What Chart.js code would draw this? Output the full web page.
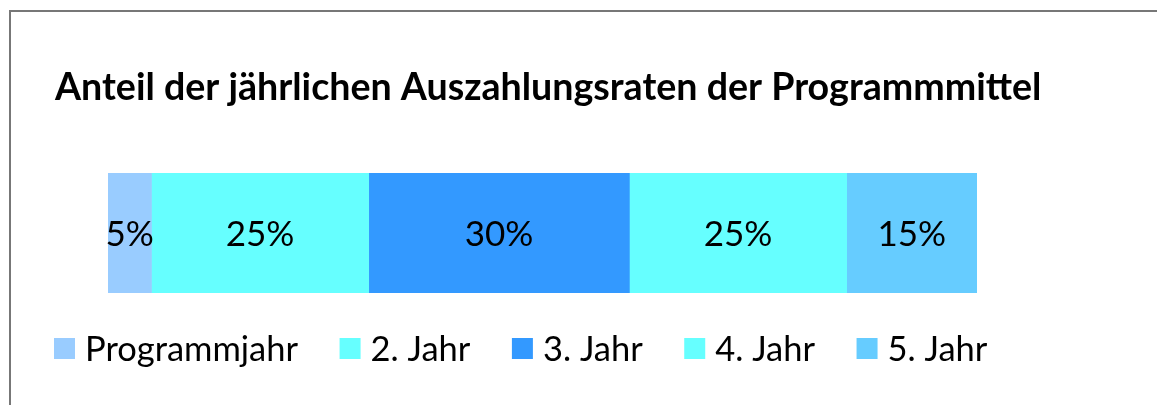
<!DOCTYPE html>
<html>
<head>
<meta charset="utf-8">
<script src="https://cdn.jsdelivr.net/npm/chart.js@4/dist/chart.umd.min.js"></script>
<style>
    html, body { margin: 0; padding: 0; background: #fff; overflow: hidden; }
    #frame { position: absolute; left: 9px; top: 10px; width: 1300px; height: 500px; border: 2px solid #777; }
    #wrap { position: absolute; left: 0; top: 0; width: 1157px; height: 405px; }
</style>
</head>
<body>
<div id="frame"></div>
<div id="wrap"><canvas id="chart" width="1157" height="405"></canvas></div>
<script>
var categories = [''];
var seriesNames = ['Programmjahr', '2. Jahr', '3. Jahr', '4. Jahr', '5. Jahr'];
var seriesValues = [5, 25, 30, 25, 15];
var seriesColors = ['#99CCFF', '#66FFFF', '#3399FF', '#66FFFF', '#66CCFF'];
var titleText = 'Anteil der jährlichen Auszahlungsraten der Programmmittel';

var fontFamily = 'Lato, "Open Sans", sans-serif';

// value labels in the middle of each segment
var segmentLabels = {
    id: 'segmentLabels',
    afterDatasetsDraw: function (chart) {
        var ctx = chart.ctx;
        ctx.save();
        ctx.font = '35px ' + fontFamily;
        ctx.fillStyle = '#000';
        ctx.textAlign = 'center';
        ctx.textBaseline = 'middle';
        chart.data.datasets.forEach(function (dataset, i) {
            var meta = chart.getDatasetMeta(i);
            meta.data.forEach(function (bar, j) {
                var cx = (bar.x + bar.base) / 2;
                ctx.fillText(dataset.data[j] + '%', cx, bar.y + 2);
            });
        });
        ctx.restore();
    }
};

// legend row under the bar
var bottomLegend = {
    id: 'bottomLegend',
    afterDraw: function (chart) {
        var ctx = chart.ctx;
        var x = 54;
        var y = 348.5;
        var box = 21;
        ctx.save();
        ctx.font = '34.5px ' + fontFamily;
        ctx.textAlign = 'left';
        ctx.textBaseline = 'middle';
        chart.data.datasets.forEach(function (dataset) {
            ctx.fillStyle = dataset.backgroundColor;
            ctx.fillRect(x, y - box / 2, box, box);
            ctx.fillStyle = '#000';
            ctx.fillText(dataset.label, x + box + 10, y + 1);
            x += box + 10 + ctx.measureText(dataset.label).width + 41.5;
        });
        ctx.restore();
    }
};

var datasets = seriesNames.map(function (name, i) {
    return {
        label: name,
        data: [seriesValues[i]],
        backgroundColor: seriesColors[i],
        borderWidth: 0,
        barPercentage: 1,
        categoryPercentage: 1,
        stack: 'total'
    };
});

var hiddenAxis = {
    grid: { display: false },
    border: { display: false },
    ticks: { display: false }
};

new Chart(document.getElementById('chart'), {
    type: 'bar',
    data: {
        labels: categories,
        datasets: datasets
    },
    options: {
        indexAxis: 'y',
        responsive: false,
        animation: false,
        layout: { padding: { left: 55, right: 0, top: 0, bottom: 0 } },
        scales: {
            x: Object.assign({
                stacked: true,
                min: 0,
                max: 100,
                afterFit: function (scale) { scale.height = 112; }
            }, hiddenAxis),
            y: Object.assign({
                stacked: true,
                afterFit: function (scale) { scale.width = 53; }
            }, hiddenAxis),
            yRight: Object.assign({
                type: 'category',
                axis: 'y',
                position: 'right',
                labels: categories,
                afterFit: function (scale) { scale.width = 180; }
            }, hiddenAxis)
        },
        plugins: {
            legend: { display: false },
            tooltip: { enabled: false },
            title: {
                display: true,
                text: titleText,
                align: 'start',
                color: '#000',
                font: { family: fontFamily, weight: 'bold', size: 37.6, lineHeight: 1.2 },
                padding: { top: 65.4, bottom: 62.5 }
            }
        }
    },
    plugins: [segmentLabels, bottomLegend]
});
</script>
</body>
</html>
